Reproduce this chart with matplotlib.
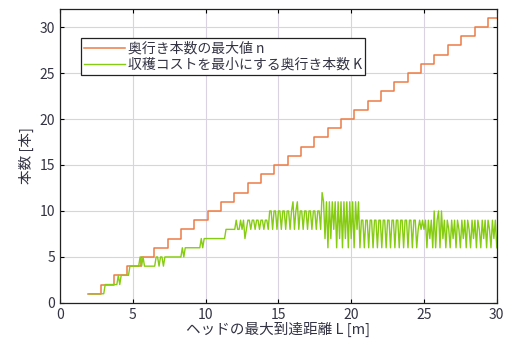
import numpy as np
import matplotlib.pyplot as plt

plt.rcParams['font.family'] = ['Noto Sans CJK JP', 'DejaVu Sans']

# 奥行き本数の最大値 n : ステップが上がる位置 [m]
n_start = 1.9
n_edges = [2.80, 3.72, 4.63, 5.55, 6.47, 7.39, 8.30, 9.22, 10.14, 11.05,
           11.97, 12.89, 13.80, 14.72, 15.64, 16.56, 17.47, 18.39, 19.31, 20.22,
           21.14, 22.06, 22.97, 23.89, 24.81, 25.72, 26.64, 27.56, 28.48, 29.39]
n_values = list(range(1, 32))

# 収穫コストを最小にする奥行き本数 K (L = 2.0 m から 0.1 m 刻み)
K_rows = [
    [1, 1, 1, 1, 1, 1, 1, 1, 1, 1],        # 2.0
    [1, 2, 2, 2, 2, 2, 2, 2, 2, 2],        # 3.0
    [3, 2, 3, 3, 3, 3, 3, 3, 4, 4],        # 4.0
    [4, 4, 4, 4, 4, 5, 4, 5, 4, 4],        # 5.0
    [4, 4, 4, 4, 4, 4, 5, 5, 4, 5],        # 6.0
    [5, 4, 5, 5, 5, 5, 5, 5, 5, 5],        # 7.0
    [5, 5, 5, 5, 6, 5, 6, 6, 6, 6],        # 8.0
    [6, 6, 6, 6, 6, 6, 6, 7, 6, 7],        # 9.0
    [7, 7, 7, 7, 7, 7, 7, 7, 7, 7],        # 10.0
    [7, 7, 7, 7, 8, 8, 8, 8, 8, 8],        # 11.0
    [8, 9, 8, 8, 9, 8, 9, 7, 8, 9],        # 12.0
    [9, 8, 9, 9, 8, 9, 9, 8, 9, 9],        # 13.0
    [8, 9, 9, 8, 10, 10, 8, 10, 10, 8],    # 14.0
    [10, 10, 8, 10, 10, 8, 10, 10, 8, 10], # 15.0
    [11, 8, 10, 11, 8, 10, 10, 8, 10, 10], # 16.0
    [8, 10, 10, 8, 10, 10, 8, 10, 10, 8],  # 17.0
    [12, 11, 7, 11, 6, 11, 7, 11, 8, 11],  # 18.0
    [6, 11, 7, 11, 6, 11, 7, 11, 6, 11],   # 19.0
    [7, 11, 6, 11, 8, 11, 6, 9, 9, 6],     # 20.0
    [9, 9, 6, 9, 9, 6, 9, 9, 6, 9],        # 21.0
    [9, 6, 9, 9, 6, 9, 9, 6, 9, 9],        # 22.0
    [6, 9, 9, 6, 9, 9, 6, 9, 9, 6],        # 23.0
    [9, 9, 6, 9, 9, 6, 8, 9, 8, 9],        # 24.0
    [8, 9, 6, 9, 7, 9, 6, 10, 6, 9],       # 25.0
    [10, 6, 10, 7, 9, 6, 9, 8, 6, 9],      # 26.0
    [7, 9, 6, 9, 8, 6, 9, 7, 9, 6],        # 27.0
    [9, 8, 6, 9, 7, 9, 6, 9, 8, 6],        # 28.0
    [9, 7, 9, 6, 9, 8, 6, 9, 7, 9],        # 29.0
    [6],                                   # 30.0
]
K_values = np.concatenate(K_rows)
K_L = 2.0 + 0.1 * np.arange(len(K_values))

n_L = [n_start] + n_edges + [30.0]
n_y = n_values + [n_values[-1]]

fig = plt.figure(figsize=(5.09, 3.47), dpi=100)
ax = fig.add_axes([0.118, 0.127, 0.858, 0.848])

ax.plot(n_L, n_y, drawstyle='steps-post', color='#ee7b45', lw=1.1,
        label='奥行き本数の最大値 n')
ax.plot(K_L, K_values, color='#86cc10', lw=1.0,
        label='収穫コストを最小にする奥行き本数 K')

ax.set_xlim(0, 30)
ax.set_ylim(0, 32)
ax.set_xticks(range(0, 31, 5))
ax.set_yticks(range(0, 31, 5))
ax.grid(color='#d9d2e3', lw=0.8)
ax.tick_params(direction='in', top=True, right=True, length=3,
               labelsize=10, labelcolor='#333344')
for s in ax.spines.values():
    s.set_linewidth(0.9)
    s.set_color('#222222')

ax.set_xlabel('ヘッドの最大到達距離 L [m]', fontsize=10.5, color='#333344', labelpad=0)
ax.set_ylabel('本数 [本]', fontsize=10.5, color='#333344', labelpad=4)

leg = ax.legend(loc='upper left', bbox_to_anchor=(0.048, 0.9), fontsize=10,
                handlelength=2.9, handletextpad=0.2, labelspacing=0.15,
                borderpad=0.25, fancybox=False, framealpha=1,
                edgecolor='#222222', borderaxespad=0)
leg.get_frame().set_linewidth(0.9)
for t in leg.get_texts():
    t.set_color('#333344')

fig.savefig('out.png', dpi=100)
